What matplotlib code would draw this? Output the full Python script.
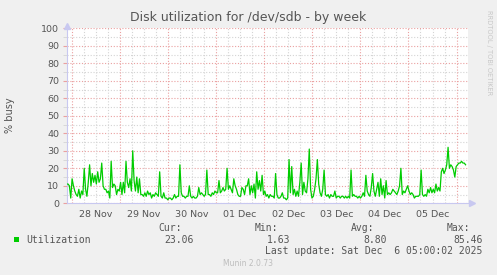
import matplotlib
matplotlib.use('Agg')
import matplotlib.pyplot as plt
import matplotlib.dates as mdates
from matplotlib.ticker import MultipleLocator
from matplotlib.patches import Rectangle
import pandas as pd

# disk utilization samples (% busy)
util = [11, 11, 10, 3, 14, 10, 7, 5, 4, 8, 3, 7, 5, 20, 8, 4, 12, 22, 10, 17,
        12, 16, 11, 18, 12, 14, 23, 10, 8, 8, 6, 7, 3, 24, 9, 11, 10, 5, 8, 7,
        12, 5, 12, 6, 24, 12, 9, 14, 7, 30, 13, 7, 15, 6, 14, 5,
        5, 4, 6, 4, 7, 5, 6, 3, 5, 4, 6, 5, 4, 18,
        4, 3, 6, 3, 3, 2, 3, 3, 2, 3, 5, 3, 4, 4, 22,
        6, 4, 4, 3, 4, 4, 10, 4, 3, 4, 3, 3, 4, 9, 5, 6, 5, 4, 5, 19,
        5, 5, 4, 6, 5, 7, 6, 6, 13,
        6, 7, 9, 7, 8, 20, 8, 10, 8, 6, 14, 10, 8, 5, 4, 4,
        9, 8, 5, 10,
        10, 14, 5, 10, 6, 11, 3, 18, 8, 13, 7, 16, 5, 7, 4, 5, 3, 5, 4, 4,
        3, 17, 5, 3, 3, 4, 6, 3, 3, 2, 3, 25, 6, 21, 5, 8, 4, 7, 4, 12,
        23, 5, 12, 7, 6, 14, 31, 8, 3, 4, 8, 14, 25, 11, 6, 4, 8, 19, 5, 4,
        5, 3, 5, 4, 4, 7, 3, 4, 4, 3, 4, 4, 3, 4, 3, 4, 3, 19, 4, 5,
        4, 4, 3, 4, 3, 4, 6, 4, 16, 7, 5, 4, 9, 17, 7, 4, 8, 12, 4, 14,
        5, 10, 3, 13, 5, 6, 5, 6, 8, 7, 6, 5, 7, 10, 20, 5, 7, 6, 8, 10,
        7, 5, 6, 5, 3, 4, 4, 4, 5, 19, 5, 4, 5, 4, 8, 6, 9, 6, 8, 6,
        11, 7, 9, 7, 18, 20, 17, 19, 22, 32, 20, 22, 21, 19, 15, 21, 22, 23, 23, 24,
        23, 23, 22]
t_first = '2025-11-27 21:30'
t_last = '2025-12-06 04:30'
x_from = '2025-11-27 21:30'
x_to = '2025-12-06 05:42'

stat_names = ['Cur:', 'Min:', 'Avg:', 'Max:']
stat_vals = ['23.06', '1.63', '8.80', '85.46']
last_update = 'Last update: Sat Dec  6 05:00:02 2025'

W, H = 497, 275
times = pd.date_range(t_first, t_last, periods=len(util))

fig = plt.figure(figsize=(W / 100, H / 100), dpi=100, facecolor='#f0f0f0')
ax = fig.add_axes([66.7 / W, 1 - 203.3 / H, (468 - 66.7) / W, 175 / H])
ax.set_facecolor('white')

red = '#eaa0a0'
grey = '#d4d4d4'
dots = (0, (1, 1.6))

# vertical grid: red at midnight, grey every 6 hours
for t in pd.date_range('2025-11-27 18:00', '2025-12-06 06:00', freq='6h'):
    ax.axvline(t, color=red if t.hour == 0 else grey, lw=0.8, ls=dots, zorder=1)

ax.yaxis.set_major_locator(MultipleLocator(10))
ax.yaxis.set_minor_locator(MultipleLocator(5))
ax.grid(True, which='major', axis='y', color=red, lw=0.8, ls=dots, zorder=1)
ax.grid(True, which='minor', axis='y', color=grey, lw=0.8, ls=dots, zorder=1)
ax.set_axisbelow(True)

ax.plot(times, util, color='#00cc00', lw=0.9, zorder=3)

ax.set_xlim(pd.Timestamp(x_from), pd.Timestamp(x_to))
ax.set_ylim(0, 100)

ax.xaxis.set_major_locator(mdates.HourLocator(byhour=[12]))
ax.xaxis.set_major_formatter(mdates.DateFormatter('%d %b'))
ax.tick_params(axis='x', which='major', length=0, pad=5, labelsize=6.8, labelcolor='#555555')
ax.tick_params(axis='y', which='major', length=3, color=red, pad=2.5, labelsize=6.8, labelcolor='#555555')
ax.tick_params(axis='y', which='minor', length=3, color=grey)

for s in ['top', 'right']:
    ax.spines[s].set_visible(False)
for s in ['left', 'bottom']:
    ax.spines[s].set_color('#c8c8f0')
    ax.spines[s].set_linewidth(0.8)

# little axis arrows like rrdtool
ax.plot([0], [1.015], marker='^', ms=4, color='#c8c8f0', transform=ax.transAxes, clip_on=False)
ax.plot([1.01], [0], marker='>', ms=4, color='#c8c8f0', transform=ax.transAxes, clip_on=False)

fig.text(10 / W, 1 - 115 / H, '% busy', rotation=90, ha='center', va='center',
         fontsize=7, color='#555555')

fig.text(0.5, 1 - 18 / H, 'Disk utilization for /dev/sdb - by week', ha='center', va='center',
         fontsize=9, color='#555555')
fig.text(488.5 / W, 1 - 53 / H, 'RRDTOOL / TOBI OETIKER', rotation=270, ha='center', va='center',
         fontsize=4.8, color='#c8c8c8')

mono = 'DejaVu Sans Mono'
fig.patches.append(Rectangle((14 / W, 1 - 242.3 / H), 5.3 / W, 5.6 / H, transform=fig.transFigure,
                             facecolor='#00cc00', edgecolor='none'))
fig.text(26 / W, 1 - 240 / H, 'Utilization', family=mono, fontsize=7, color='#555555', va='center')
name_x = [158, 255, 351, 447]
val_x = [164, 267, 363, 453]
for nm, v, nx, vx in zip(stat_names, stat_vals, name_x, val_x):
    fig.text(nx / W, 1 - 228 / H, nm, family=mono, fontsize=7, color='#555555', va='center')
    fig.text(vx / W, 1 - 240 / H, v, family=mono, fontsize=7, color='#555555', va='center')
fig.text(482 / W, 1 - 251.5 / H, last_update, family=mono, fontsize=7, color='#555555',
         va='center', ha='right')
fig.text(248 / W, 1 - 264 / H, 'Munin 2.0.73', fontsize=5.5, color='#bdbdbd', ha='center', va='center')

fig.savefig('out.png', dpi=100, facecolor=fig.get_facecolor())
